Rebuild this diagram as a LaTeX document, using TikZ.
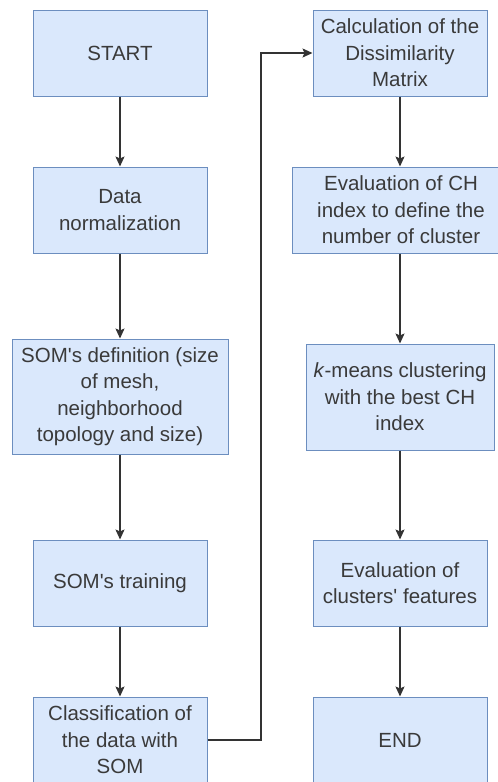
\documentclass[tikz,border=0pt]{standalone}
\usepackage{fontspec}
\newfontfamily\arialf{Liberation Sans}
\usetikzlibrary{arrows.meta}
\definecolor{boxfill}{HTML}{DAE8FC}
\definecolor{boxdraw}{HTML}{6C8EBF}
\definecolor{linec}{HTML}{333333}
\definecolor{textc}{HTML}{3A3A3A}
\tikzset{
  box/.style={draw=boxdraw, fill=boxfill, line width=1pt, text=textc, align=center,
    inner sep=0pt, minimum height=86pt,
    font=\arialf\fontsize{20.5}{26.5}\selectfont},
  conn/.style={draw=linec, line width=1.3pt, -{Stealth[length=10pt,width=9pt,inset=2pt]}},
}
\begin{document}
\begin{tikzpicture}[x=1pt,y=-1pt]
\useasboundingbox (0,0) rectangle (498,782);
\clip (0,0) rectangle (498,782);
% left column
\node[box, minimum width=174pt] (start) at (120,53) {START};
\node[box, minimum width=174pt] (norm) at (120,210) {Data\\normalization};
\node[box, minimum width=216pt, minimum height=115pt] (def) at (120,396.5) {SOM's definition (size\\of mesh,\\neighborhood\\topology and size)};
\node[box, minimum width=174pt] (train) at (120,583) {SOM's training};
\node[box, minimum width=174pt] (class) at (120,740) {Classification of\\the data with\\SOM};
% right column
\node[box, minimum width=174pt] (calc) at (400,53) {Calculation of the\\Dissimilarity\\Matrix};
\node[box, minimum width=218pt] (ch) at (401,210) {Evaluation of CH\\index to define the\\number of cluster};
\node[box, minimum width=188pt, minimum height=106pt] (km) at (400,397) {\textit{k}-means clustering\\with the best CH\\index};
\node[box, minimum width=174pt] (evc) at (400,583) {Evaluation of\\clusters' features};
\node[box, minimum width=174pt] (end) at (400,740) {END};
% connectors
\draw[conn] (start) -- (norm);
\draw[conn] (norm) -- (def);
\draw[conn] (def) -- (train);
\draw[conn] (train) -- (class);
\coordinate (c1) at (261,740);
\coordinate (c2) at (261,53);
\draw[conn] (class.east) -- (c1) -- (c2) -- (calc.west);
\draw[conn] (calc.south) -- (calc.south |- ch.north);
\draw[conn] (calc.south |- ch.south) -- (calc.south |- km.north);
\draw[conn] (km) -- (evc);
\draw[conn] (evc) -- (end);
\end{tikzpicture}
\end{document}
